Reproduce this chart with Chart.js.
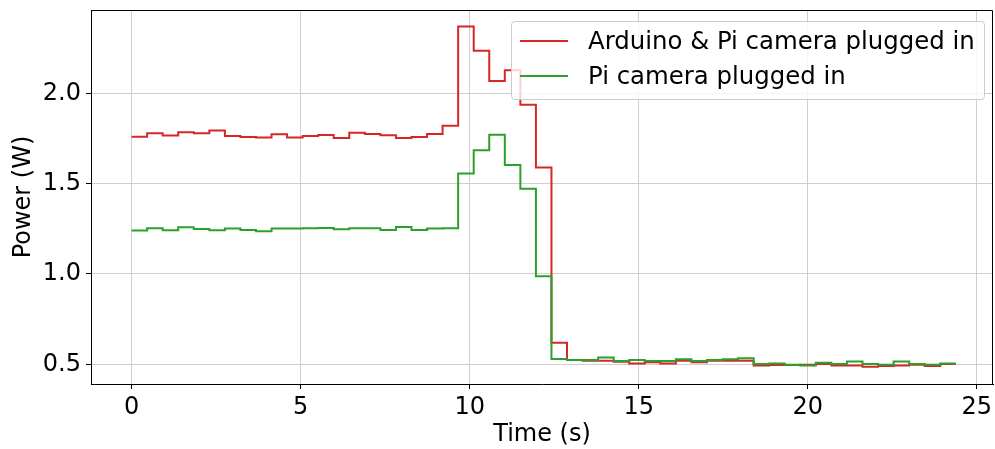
<!DOCTYPE html>
<html>
<head>
<meta charset="utf-8">
<script src="https://cdn.jsdelivr.net/npm/chart.js@4/dist/chart.umd.min.js"></script>
<style>
  body { margin: 0; background: #fff; }
  #wrap { position: relative; width: 995px; height: 449px; }
  #legend {
    position: absolute; left: 511px; top: 21px; width: 474px; height: 79px;
    box-sizing: border-box; border: 1px solid #cccccc; border-radius: 4px;
    background: rgba(255, 255, 255, 0.8);
    font-family: 'DejaVu Sans', sans-serif; font-size: 24.4px; color: #000;
  }
  .row { position: absolute; left: 0; height: 28px; line-height: 28px; white-space: nowrap; }
  .swatch { position: absolute; left: 8px; top: 13px; width: 48px; height: 2px; }
  .label { position: absolute; left: 76px; top: 0; }
</style>
</head>
<body>
<div id="wrap">
  <canvas id="powerChart" width="995" height="449"></canvas>
  <div id="legend"></div>
</div>
<script>
// sample times (s)
const times = [0, 0.46, 0.92, 1.38, 1.84, 2.30, 2.76, 3.22, 3.68, 4.14, 4.60, 5.06, 5.52, 5.98,
  6.44, 6.90, 7.36, 7.82, 8.28, 8.74, 9.20, 9.66, 10.12, 10.58, 11.04, 11.50, 11.96, 12.42,
  12.88, 13.34, 13.80, 14.26, 14.72, 15.18, 15.64, 16.10, 16.56, 17.02, 17.48, 17.94, 18.40,
  18.86, 19.32, 19.78, 20.24, 20.70, 21.16, 21.62, 22.08, 22.54, 23.00, 23.46, 23.92, 24.38];

// power (W), Arduino & Pi camera
const arduinoPi = [1.760, 1.779, 1.766, 1.784, 1.779, 1.794, 1.764, 1.758, 1.755, 1.773,
  1.755, 1.764, 1.769, 1.753, 1.781, 1.775, 1.768, 1.753, 1.758, 1.775,
  1.821, 2.370, 2.236, 2.068, 2.127, 1.937, 1.589, 0.620, 0.524, 0.520,
  0.520, 0.514, 0.505, 0.511, 0.505, 0.520, 0.511, 0.520, 0.520, 0.520,
  0.494, 0.496, 0.496, 0.498, 0.502, 0.494, 0.494, 0.487, 0.491, 0.494,
  0.498, 0.491, 0.502, 0.502];

// power (W), Pi camera only
const piCamera = [1.240, 1.253, 1.242, 1.258, 1.249, 1.242, 1.251, 1.244, 1.237, 1.251,
  1.251, 1.253, 1.255, 1.247, 1.253, 1.253, 1.244, 1.260, 1.244, 1.251,
  1.253, 1.556, 1.685, 1.771, 1.603, 1.472, 0.987, 0.529, 0.524, 0.524,
  0.537, 0.518, 0.524, 0.518, 0.518, 0.528, 0.518, 0.524, 0.528, 0.533,
  0.502, 0.505, 0.498, 0.494, 0.509, 0.502, 0.516, 0.502, 0.498, 0.516,
  0.502, 0.498, 0.505, 0.505];

const xTicks = [0, 5, 10, 15, 20, 25];
const yTicks = [0.5, 1.0, 1.5, 2.0];

const seriesLabels = ['Arduino & Pi camera plugged in', 'Pi camera plugged in'];
const seriesColors = ['#d62728', '#2ca02c'];

const font = { family: 'DejaVu Sans', size: 24 };

function toPoints(ys) {
  return ys.map((y, i) => ({ x: times[i], y: y }));
}

// top and right spines
const frame = {
  id: 'frame',
  afterDraw(chart) {
    const { ctx, chartArea: a } = chart;
    ctx.save();
    ctx.strokeStyle = '#000';
    ctx.lineWidth = 1;
    ctx.beginPath();
    ctx.moveTo(Math.round(a.left) + 0.5, Math.round(a.top) + 0.5);
    ctx.lineTo(Math.round(a.right) - 0.5, Math.round(a.top) + 0.5);
    ctx.lineTo(Math.round(a.right) - 0.5, Math.round(a.bottom) + 0.5);
    ctx.stroke();
    ctx.restore();
  }
};

const ctx = document.getElementById('powerChart').getContext('2d');
new Chart(ctx, {
  type: 'line',
  data: {
    datasets: [
      { label: seriesLabels[0], data: toPoints(arduinoPi), borderColor: seriesColors[0], order: 2 },
      { label: seriesLabels[1], data: toPoints(piCamera), borderColor: seriesColors[1], order: 1 }
    ]
  },
  options: {
    responsive: false,
    animation: false,
    devicePixelRatio: 1,
    layout: { padding: { top: 10, right: 2, left: 0, bottom: 0 } },
    elements: {
      line: { stepped: 'before', borderWidth: 2, fill: false, tension: 0 },
      point: { radius: 0, hoverRadius: 0 }
    },
    plugins: { legend: { display: false }, tooltip: { enabled: false } },
    scales: {
      x: {
        type: 'linear',
        min: -1.2,
        max: 25.48,
        afterBuildTicks: s => { s.ticks = xTicks.map(v => ({ value: v })); },
        afterFit: s => { s.height = 65; s.paddingLeft = 0; s.paddingRight = 0; },
        ticks: { font: font, color: '#000', padding: 4, maxRotation: 0, autoSkip: false,
                 callback: v => String(v) },
        grid: { color: '#cfcfcf', lineWidth: 1, tickLength: 5, tickColor: '#000' },
        border: { color: '#000', width: 1 },
        title: { display: true, text: 'Time (s)', font: font, color: '#000',
                 padding: { top: 0, bottom: 0 } }
      },
      y: {
        type: 'linear',
        min: 0.391,
        max: 2.461,
        afterBuildTicks: s => { s.ticks = yTicks.map(v => ({ value: v })); },
        afterFit: s => { s.width = 91; s.paddingTop = 0; s.paddingBottom = 0; },
        ticks: { font: font, color: '#000', padding: 5, callback: v => v.toFixed(1) },
        grid: { color: '#cfcfcf', lineWidth: 1, tickLength: 5, tickColor: '#000' },
        border: { color: '#000', width: 1 },
        title: { display: true, text: 'Power (W)', font: font, color: '#000',
                 padding: { top: 9, bottom: 0 } }
      }
    }
  },
  plugins: [frame]
});

// legend box in the upper right of the plot
const legend = document.getElementById('legend');
const rowTops = [5, 40];
seriesLabels.forEach((lab, i) => {
  const row = document.createElement('div');
  row.className = 'row';
  row.style.top = rowTops[i] + 'px';
  const sw = document.createElement('div');
  sw.className = 'swatch';
  sw.style.background = seriesColors[i];
  const tx = document.createElement('span');
  tx.className = 'label';
  tx.textContent = lab;
  row.appendChild(sw);
  row.appendChild(tx);
  legend.appendChild(row);
});
</script>
</body>
</html>
